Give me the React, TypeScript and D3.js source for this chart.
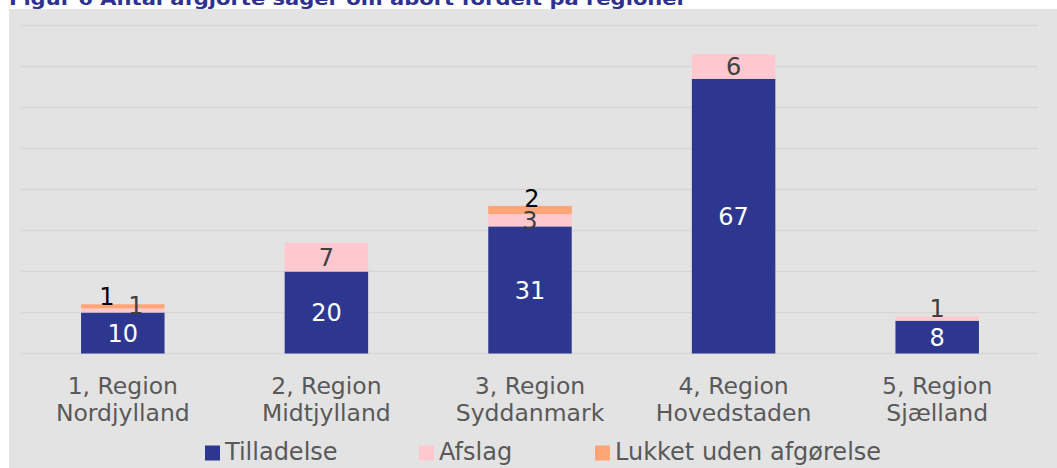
import React from 'react';
import * as d3 from 'd3';

// regions and case counts
const regions = [
    ['1, Region', 'Nordjylland'],
    ['2, Region', 'Midtjylland'],
    ['3, Region', 'Syddanmark'],
    ['4, Region', 'Hovedstaden'],
    ['5, Region', 'Sjælland'],
];
const tilladelse = [10, 20, 31, 67, 8];
const afslag = [1, 7, 3, 6, 1];
const lukket = [1, 0, 2, 0, 0];
const seriesNames = ['Tilladelse', 'Afslag', 'Lukket uden afgørelse'];
const yTicks = [0, 10, 20, 30, 40, 50, 60, 70, 80];

const colors = ['#2e378f', '#ffc7ce', '#ffa474'];
const labelColors = ['#ffffff', '#404040', '#000000'];
const font = '"DejaVu Sans", Verdana, sans-serif';

// Excel-style label nudges (series index, region index) -> [dx, dy]
const nudges: Record<string, [number, number]> = {
    '2-0': [-16, -10],
    '1-0': [13, -5],
    '2-2': [2, -12],
    '1-4': [0, -10],
};

const W = 1057;
const H = 468;

const App: React.FC = () => {
    const x = d3.scaleBand<number>()
        .domain(d3.range(regions.length))
        .range([21, 1039])
        .paddingInner(0.59)
        .paddingOuter(0.295);
    const y = d3.scaleLinear().domain([0, 80]).range([353.5, 25.5]);

    const rows = regions.map((_, i) => ({ i, v0: tilladelse[i], v1: afslag[i], v2: lukket[i] }));
    const stacked = d3.stack<any>().keys(['v0', 'v1', 'v2'])(rows);

    // legend layout
    const legendX = [205, 419, 595];

    return (
        <svg width={W} height={H} style={{ position: 'absolute', left: 0, top: 0 }} fontFamily={font}>
            <rect width={W} height={H} fill="#ffffff" />
            <text x={9} y={5} fontSize={18} fontWeight="bold" fill="#2e3192"
                textLength={678} lengthAdjust="spacingAndGlyphs">
                Figur 6 Antal afgjorte sager om abort fordelt på regioner
            </text>
            <rect x={9} y={9} width={W - 9} height={H - 9} fill="#e3e3e3" />

            {yTicks.map(t => (
                <line key={t} x1={21} x2={1038} y1={y(t)} y2={y(t)} stroke="#d6d6d6" strokeWidth={1.5} />
            ))}

            {stacked.map((layer, s) => (
                <g key={s}>
                    {layer.map((d, i) => {
                        const h = y(d[0]) - y(d[1]);
                        if (h <= 0) return null;
                        return (
                            <rect key={i} x={x(i)} y={y(d[1])} width={x.bandwidth()} height={h} fill={colors[s]} />
                        );
                    })}
                </g>
            ))}

            {stacked.map((layer, s) => (
                <g key={'l' + s}>
                    {layer.map((d, i) => {
                        const v = d[1] - d[0];
                        if (v <= 0) return null;
                        const [dx, dy] = nudges[`${s}-${i}`] || [0, 0];
                        const cx = x(i)! + x.bandwidth() / 2 + dx;
                        const cy = (y(d[0]) + y(d[1])) / 2 + dy;
                        return (
                            <text key={i} x={cx} y={cy} dy="0.36em" textAnchor="middle"
                                fontSize={24} fill={labelColors[s]}>
                                {v}
                            </text>
                        );
                    })}
                </g>
            ))}

            {regions.map((lines, i) => (
                <text key={i} x={x(i)! + x.bandwidth() / 2} textAnchor="middle" fontSize={23.5} fill="#595959">
                    <tspan x={x(i)! + x.bandwidth() / 2} y={393.5}>{lines[0]}</tspan>
                    <tspan x={x(i)! + x.bandwidth() / 2} y={420.5}>{lines[1]}</tspan>
                </text>
            ))}

            {seriesNames.map((name, s) => (
                <g key={name}>
                    <rect x={legendX[s]} y={445.5} width={15} height={15} fill={colors[s]} />
                    <text x={legendX[s] + 20} y={460} fontSize={24} fill="#595959">{name}</text>
                </g>
            ))}
        </svg>
    );
};

export default App;
